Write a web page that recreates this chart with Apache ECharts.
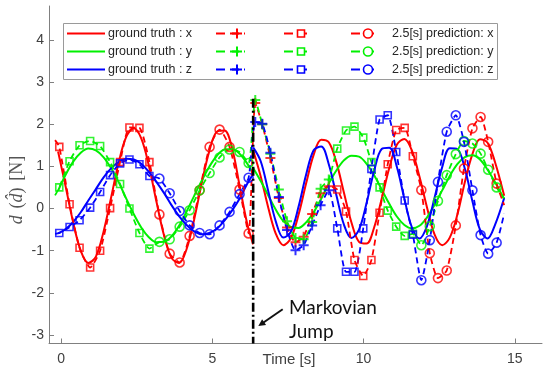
<!DOCTYPE html>
<html><head><meta charset="utf-8">
<script src="https://cdn.jsdelivr.net/npm/echarts@6/dist/echarts.min.js"></script>
<style>html,body{margin:0;padding:0;background:#fff}#c{width:550px;height:376px}</style>
</head><body><div id="c"></div>
<script>
// ---- axes ----
const xTicks = [0, 5, 10, 15];
const yTicks = [-3, -2, -1, 0, 1, 2, 3, 4];
const xMin = -0.4, xMax = 15.9, yMin = -3.2, yMax = 4.8;
const jumpT = 6.35, jumpTop = 2.6;

// ---- ground truth (before jump) ----
const gtPreT = [-0.1, 0.15, 0.4, 0.65, 0.9, 1.15, 1.4, 1.65, 1.9, 2.15, 2.4, 2.65, 2.9, 3.15, 3.4, 3.65, 3.9, 4.15, 4.4, 4.65, 4.9, 5.15, 5.4, 5.65, 5.9, 6.15, 6.35];
const gtPreX = [1.35, 0.52, -0.33, -1.0, -1.29, -1.14, -0.56, 0.25, 1.08, 1.69, 1.9, 1.66, 1.02, 0.17, -0.63, -1.17, -1.29, -0.96, -0.26, 0.6, 1.36, 1.82, 1.85, 1.44, 0.55, -0.35, -0.85];
const gtPreY = [0.42, 0.80, 1.11, 1.32, 1.42, 1.38, 1.22, 0.96, 0.63, 0.24, -0.13, -0.45, -0.68, -0.80, -0.79, -0.66, -0.41, -0.07, 0.30, 0.66, 0.99, 1.25, 1.40, 1.41, 1.30, 1.07, 0.83];
const gtPreZ = [-0.59, -0.49, -0.32, -0.09, 0.19, 0.46, 0.73, 0.95, 1.10, 1.18, 1.16, 1.06, 0.87, 0.63, 0.37, 0.08, -0.18, -0.39, -0.54, -0.61, -0.58, -0.48, -0.29, -0.05, 0.23, 0.58, 0.82];

// ---- ground truth (after jump) ----
const gtPostT = [6.35, 6.6, 6.85, 7.1, 7.35, 7.6, 7.85, 8.1, 8.35, 8.6, 8.85, 9.1, 9.35, 9.6, 9.85, 10.1, 10.35, 10.6, 10.85, 11.1, 11.35, 11.6, 11.85, 12.1, 12.35, 12.6, 12.85, 13.1, 13.35, 13.6, 13.85, 14.1, 14.35, 14.65];
const gtPostX = [1.38, 0.76, 0.02, -0.60, -0.87, -0.70, -0.15, 0.59, 1.27, 1.63, 1.57, 1.10, 0.38, -0.33, -0.79, -0.83, -0.45, 0.23, 0.96, 1.51, 1.65, 1.37, 0.75, 0.02, -0.62, -0.87, -0.69, -0.15, 0.63, 1.29, 1.64, 1.56, 1.09, 0.30];
const gtPostY = [0.96, 0.65, 0.31, -0.03, -0.30, -0.44, -0.46, -0.33, -0.09, 0.23, 0.59, 0.90, 1.14, 1.25, 1.23, 1.06, 0.79, 0.45, 0.11, -0.19, -0.39, -0.47, -0.41, -0.21, 0.09, 0.43, 0.77, 1.05, 1.22, 1.26, 1.16, 0.92, 0.62, 0.22];
const gtPostZ = [1.45, 1.12, 0.41, -0.31, -0.69, -0.55, 0.04, 0.80, 1.38, 1.47, 1.05, 0.32, -0.38, -0.70, -0.50, 0.13, 0.89, 1.41, 1.44, 0.99, 0.23, -0.45, -0.71, -0.41, 0.26, 0.98, 1.43, 1.41, 0.94, 0.17, -0.50, -0.71, -0.38, 0.25];

// ---- predictions: square markers (before jump) ----
const sqPreT = [-0.06, 0.28, 0.61, 0.96, 1.29, 1.62, 1.95, 2.26, 2.59, 2.92];
const sqPreX = [1.46, 0.10, -0.93, -1.40, -1.00, 0.01, 1.10, 1.92, 1.91, 1.10];
const sqPreY = [0.50, 1.12, 1.50, 1.60, 1.48, 1.10, 0.58, 0.0, -0.58, -0.95];
const sqPreZ = [-0.58, -0.44, -0.28, 0.02, 0.39, 0.79, 1.07, 1.16, 1.05, 0.77];
// ---- predictions: circle markers (before jump) ----
const ciPreT = [3.25, 3.59, 3.92, 4.25, 4.58, 4.91, 5.24, 5.57, 5.90, 6.20];
const ciPreX = [-0.14, -1.07, -1.28, -0.65, 0.43, 1.46, 1.87, 1.46, 0.45, -0.59];
const ciPreY = [-0.79, -0.73, -0.43, -0.04, 0.43, 0.84, 1.21, 1.40, 1.34, 1.08];
const ciPreZ = [0.71, 0.36, -0.06, -0.40, -0.58, -0.61, -0.40, -0.08, 0.34, 0.73];
// ---- predictions: plus markers (after jump) ----
const plT = [6.42, 6.65, 6.92, 7.2, 7.47, 7.75, 8.02, 8.3, 8.58, 8.85];
const plX = [2.5, 2.0, 1.2, 0.25, -0.45, -0.8, -0.67, -0.13, 0.36, 0.53];
const plY = [2.57, 2.0, 1.3, 0.45, -0.3, -0.7, -0.73, -0.32, 0.47, 0.69];
const plZ = [2.05, 2.01, 1.32, 0.27, -0.51, -0.99, -0.87, -0.40, 0.08, 0.43];
// ---- predictions: square markers (after jump) ----
const sqPostT = [9.13, 9.42, 9.70, 9.99, 10.26, 10.53, 10.8, 11.08, 11.36, 11.63];
const sqPostX = [0.45, -0.07, -1.22, -1.6, -1.22, -0.1, 1.05, 1.86, 1.91, 1.24];
const sqPostY = [1.42, 1.85, 1.94, 1.68, 1.1, 0.5, -0.05, -0.43, -0.65, -0.6];
const sqPostZ = [-0.47, -1.5, -1.5, -0.47, 0.94, 2.11, 2.21, 1.34, 0.19, -0.62];
// ---- predictions: circle markers (after jump) ----
const ciPostT = [11.91, 12.19, 12.46, 12.75, 13.05, 13.32, 13.6, 13.87, 14.12, 14.40];
const ciPostX = [0.44, -1.06, -1.65, -1.47, -0.4, 0.95, 1.9, 2.17, 1.58, 0.59];
const ciPostY = [-0.87, -0.42, 0.18, 0.79, 1.29, 1.60, 1.54, 1.30, 0.92, 0.5];
const ciPostZ = [-1.70, -0.75, 0.63, 1.82, 2.21, 1.58, 0.43, -0.63, -1.07, -0.81];
// ---- dashed prediction line ends (no markers) ----
const predStartT = -0.2, predStartX = 1.62, predStartY = 0.31, predStartZ = -0.6;
const predEndT = 14.65, predEndX = 0.08, predEndY = 0.24, predEndZ = -0.12;

const legendGT = ['ground truth : x', 'ground truth : y', 'ground truth : z'];
const legendPred = ['2.5[s] prediction: x', '2.5[s] prediction: y', '2.5[s] prediction: z'];

const COL = ['#ff0000', '#00f000', '#0000ff'];
const pairs = (t, v) => t.map((tt, i) => [tt, v[i]]);

const comps = [
  {gtPre: gtPreX, gtPost: gtPostX, sqPre: sqPreX, ciPre: ciPreX, pl: plX, sqPost: sqPostX, ciPost: ciPostX, s: predStartX, e: predEndX},
  {gtPre: gtPreY, gtPost: gtPostY, sqPre: sqPreY, ciPre: ciPreY, pl: plY, sqPost: sqPostY, ciPost: ciPostY, s: predStartY, e: predEndY},
  {gtPre: gtPreZ, gtPost: gtPostZ, sqPre: sqPreZ, ciPre: ciPreZ, pl: plZ, sqPost: sqPostZ, ciPost: ciPostZ, s: predStartZ, e: predEndZ}
];

const PLUS = 'path://M4,0H6V4H10V6H6V10H4V6H0V4H4Z';
const series = [];
comps.forEach((c, i) => {
  [[gtPreT, c.gtPre], [gtPostT, c.gtPost]].forEach(([t, v]) => series.push({
    type: 'line', data: pairs(t, v), smooth: 0.35, showSymbol: false, z: 2,
    lineStyle: {color: COL[i], width: 2}, silent: true, animation: false
  }));
});
comps.forEach((c, i) => {
  const data = [[predStartT, c.s]]
    .concat(pairs(sqPreT, c.sqPre), pairs(ciPreT, c.ciPre), pairs(plT, c.pl),
            pairs(sqPostT, c.sqPost), pairs(ciPostT, c.ciPost), [[predEndT, c.e]]);
  series.push({type: 'line', data, showSymbol: false, z: 3, smooth: 0.2,
    lineStyle: {color: COL[i], width: 1.8, type: [6, 4]}, silent: true, animation: false});
  const mk = (t, v, sym, size, filled) => series.push({
    type: 'scatter', data: pairs(t, v), symbol: sym, symbolSize: size, z: 4, silent: true, animation: false,
    itemStyle: filled ? {color: COL[i]} : {color: 'rgba(255,255,255,0)', borderColor: COL[i], borderWidth: 1.6}
  });
  mk(sqPreT, c.sqPre, 'rect', 7, false);
  mk(ciPreT, c.ciPre, 'circle', 9, false);
  mk(plT, c.pl, PLUS, 10, true);
  mk(sqPostT, c.sqPost, 'rect', 7, false);
  mk(ciPostT, c.ciPost, 'circle', 9, false);
});
series.push({type: 'line', data: [[jumpT, jumpTop], [jumpT, yMin]], showSymbol: false, z: 6, silent: true, animation: false,
  lineStyle: {color: '#000', width: 2.6, type: [9, 3, 2, 3]}});

// ---- legend & annotations (graphic) ----
const g = [];
g.push({type: 'rect', shape: {x: 63.5, y: 23.5, width: 434, height: 56}, style: {fill: '#fff', stroke: '#9a9a9a', lineWidth: 1}, z: 10});
const rowY = [33.5, 51.5, 69.5];
rowY.forEach((y, i) => {
  const c = COL[i];
  g.push({type: 'line', shape: {x1: 67, y1: y, x2: 105, y2: y}, style: {stroke: c, lineWidth: 2}, z: 11});
  g.push({type: 'text', x: 108, y: y, style: {text: legendGT[i], fontSize: 12.5, fontFamily: 'Liberation Sans', fill: '#262626', verticalAlign: 'middle'}, z: 11});
  // plus
  g.push({type: 'line', shape: {x1: 216, y1: y, x2: 245, y2: y}, style: {stroke: c, lineWidth: 1.8, lineDash: [9, 5]}, z: 11});
  g.push({type: 'polygon', shape: {points: [[236,y-5],[238,y-5],[238,y-1],[242,y-1],[242,y+1],[238,y+1],[238,y+5],[236,y+5],[236,y+1],[232,y+1],[232,y-1],[236,y-1]]}, style: {fill: c}, z: 12});
  // square
  g.push({type: 'line', shape: {x1: 284, y1: y, x2: 312, y2: y}, style: {stroke: c, lineWidth: 1.8, lineDash: [9, 5]}, z: 11});
  g.push({type: 'rect', shape: {x: 297.5, y: y - 3.5, width: 7, height: 7}, style: {fill: '#fff', stroke: c, lineWidth: 1.6}, z: 12});
  // circle
  g.push({type: 'line', shape: {x1: 351, y1: y, x2: 375, y2: y}, style: {stroke: c, lineWidth: 1.8, lineDash: [9, 5]}, z: 11});
  g.push({type: 'circle', shape: {cx: 368, cy: y, r: 4.5}, style: {fill: '#fff', stroke: c, lineWidth: 1.6}, z: 12});
  g.push({type: 'text', x: 392, y: y, style: {text: legendPred[i], fontSize: 12.5, fontFamily: 'Liberation Sans', fill: '#262626', verticalAlign: 'middle'}, z: 11});
});
// Markovian Jump annotation
g.push({type: 'text', x: 289, y: 296, style: {text: 'Markovian\nJump', fontSize: 19, lineHeight: 24, fontFamily: 'Lato', fill: '#111'}, z: 10});
g.push({type: 'line', shape: {x1: 282.7, y1: 309.3, x2: 263.5, y2: 322.5}, style: {stroke: '#111', lineWidth: 2}, z: 10});
g.push({type: 'polygon', shape: {points: [[258.3, 326], [266.1, 324.9], [262.1, 319.2]]}, style: {fill: '#111'}, z: 10});
// axis titles
g.push({type: 'text', x: 289, y: 360, style: {text: 'Time [s]', fontSize: 15, fontFamily: 'Liberation Sans', fill: '#404040', align: 'center', verticalAlign: 'middle'}, z: 10});
g.push({type: 'text', x: 17, y: 190, rotation: Math.PI / 2, style: {
  text: '{i|d}  {n|(}{i|d\u0302}{n|)}  {n|[N]}', align: 'center', verticalAlign: 'middle', fill: '#555',
  rich: {i: {fontFamily: 'Liberation Serif', fontStyle: 'italic', fontSize: 18, fill: '#555'}, n: {fontFamily: 'Liberation Serif', fontSize: 18, fill: '#555'}}}, z: 10});

const chart = echarts.init(document.getElementById('c'), null, {renderer: 'canvas'});
chart.setOption({
  animation: false,
  backgroundColor: '#fff',
  grid: {left: 49, right: 8, top: 6, bottom: 32.5, containLabel: false},
  xAxis: {type: 'value', min: xMin, max: xMax,
    axisLine: {show: true, onZero: false, lineStyle: {color: '#808080', width: 1}},
    axisTick: {show: true, inside: true, length: 5, customValues: xTicks, lineStyle: {color: '#808080'}},
    axisLabel: {customValues: xTicks, fontSize: 14, fontFamily: 'Liberation Sans', color: '#404040', margin: 9},
    splitLine: {show: false}},
  yAxis: {type: 'value', min: yMin, max: yMax,
    axisLine: {show: true, onZero: false, lineStyle: {color: '#808080', width: 1}},
    axisTick: {show: true, inside: true, length: 5, customValues: yTicks, lineStyle: {color: '#808080'}},
    axisLabel: {customValues: yTicks, fontSize: 14, fontFamily: 'Liberation Sans', color: '#404040', margin: 5},
    splitLine: {show: false}},
  series,
  graphic: g
});
</script></body></html>
